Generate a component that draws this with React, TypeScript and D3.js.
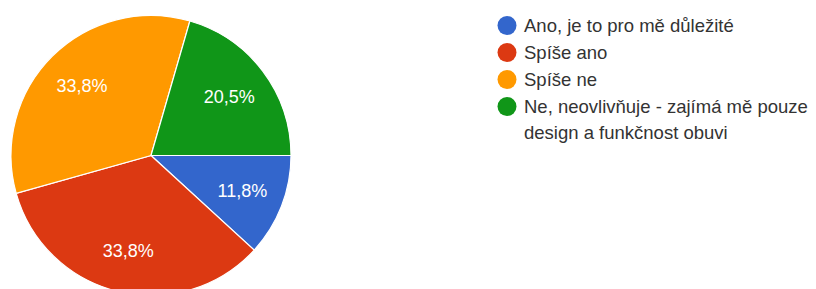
import React from "react";
import * as d3 from "d3";

const categories = [
  "Ano, je to pro mě důležité",
  "Spíše ano",
  "Spíše ne",
  "Ne, neovlivňuje - zajímá mě pouze design a funkčnost obuvi",
];
const legendLines = [
  ["Ano, je to pro mě důležité"],
  ["Spíše ano"],
  ["Spíše ne"],
  ["Ne, neovlivňuje - zajímá mě pouze", "design a funkčnost obuvi"],
];
const values = [11.8, 33.8, 33.8, 20.5];
const labels = ["11,8%", "33,8%", "33,8%", "20,5%"];
const colors = ["#3366cc", "#dc3912", "#ff9900", "#109618"];

const W = 816;
const H = 289;
const cx = 151;
const cy = 155.5;
const R = 140;

export default function App() {
  const pie = d3
    .pie<number>()
    .sort(null)
    .startAngle(Math.PI / 2)
    .endAngle(Math.PI / 2 + 2 * Math.PI)
    .value((d) => d);
  const arcs = pie(values);
  const arc = d3.arc<d3.PieArcDatum<number>>().innerRadius(0).outerRadius(R);
  const labelArc = d3
    .arc<d3.PieArcDatum<number>>()
    .innerRadius(R * 0.7)
    .outerRadius(R * 0.7);

  const legendX = 507;
  const legendY0 = 25.5;
  const legendStep = 27;
  const font = "'Liberation Sans', Arial, sans-serif";

  return (
    <svg
      width={W}
      height={H}
      style={{ position: "absolute", left: 0, top: 0, background: "#fff" }}
    >
      <g transform={`translate(${cx},${cy})`}>
        {arcs.map((a, i) => (
          <path
            key={i}
            d={arc(a) || ""}
            fill={colors[i]}
            stroke="#fff"
            strokeWidth={1.2}
          />
        ))}
        {arcs.map((a, i) => {
          const [x, y] = labelArc.centroid(a);
          return (
            <text
              key={"l" + i}
              x={x}
              y={y}
              textAnchor="middle"
              dominantBaseline="central"
              fill="#fff"
              fontFamily={font}
              fontSize={18}
            >
              {labels[i]}
            </text>
          );
        })}
      </g>
      <g>
        {categories.map((c, i) => (
          <g key={c} transform={`translate(${legendX},${legendY0 + i * legendStep})`}>
            <circle r={9.5} fill={colors[i]} />
            {legendLines[i].map((ln, j) => (
              <text
                key={j}
                x={17}
                y={j * 26}
                dominantBaseline="central"
                fill="#333"
                fontFamily={font}
                fontSize={18.5}
              >
                {ln}
              </text>
            ))}
          </g>
        ))}
      </g>
    </svg>
  );
}
